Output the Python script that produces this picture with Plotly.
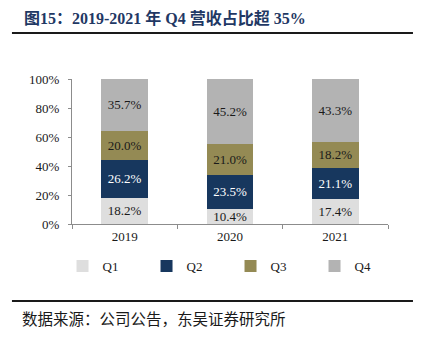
import plotly.graph_objects as go

years = ["2019", "2020", "2021"]
quarters = ["Q1", "Q2", "Q3", "Q4"]
shares = {
    "Q1": [18.2, 10.4, 17.4],
    "Q2": [26.2, 23.5, 21.1],
    "Q3": [20.0, 21.0, 18.2],
    "Q4": [35.7, 45.2, 43.3],
}
colors = {"Q1": "#dedede", "Q2": "#17375e", "Q3": "#948a54", "Q4": "#b3b3b3"}
text_colors = {"Q1": "#1a1a1a", "Q2": "#ffffff", "Q3": "#1a1a1a", "Q4": "#1a1a1a"}
y_ticks = [0, 20, 40, 60, 80, 100]

SERIF = "Liberation Serif"
CJK = "Liberation Serif, Noto Sans CJK SC"

fig = go.Figure()
for q in quarters:
    fig.add_trace(go.Bar(
        name=q,
        x=years,
        y=shares[q],
        marker=dict(color=colors[q], line=dict(width=0)),
        text=[f"{v:.1f}%" for v in shares[q]],
        textposition="inside",
        insidetextanchor="middle",
        textangle=0,
        constraintext="none",
        textfont=dict(family=SERIF, size=13, color=text_colors[q]),
        hoverinfo="skip",
    ))

fig.update_layout(
    barmode="stack",
    bargap=0.56,
    width=425,
    height=345,
    margin=dict(l=72, r=37, t=79, b=121),
    paper_bgcolor="white",
    plot_bgcolor="white",
    font=dict(family=SERIF, size=13, color="#1a1a1a"),
    showlegend=True,
    legend=dict(
        orientation="h",
        x=-0.03, xanchor="left",
        y=-0.29, yanchor="middle",
        entrywidth=39, entrywidthmode="pixels",
        itemwidth=30,
        font=dict(family=SERIF, size=13, color="#1a1a1a"),
        traceorder="normal",
    ),
    xaxis=dict(
        showline=True, linecolor="#8c8c8c", linewidth=1,
        ticks="outside", ticklen=4, tickcolor="#8c8c8c",
        tickson="boundaries",
        showgrid=False,
        tickfont=dict(family=SERIF, size=13, color="#1a1a1a"),
    ),
    yaxis=dict(
        range=[0, 100],
        tickvals=y_ticks,
        ticktext=[f"{v}%" for v in y_ticks],
        showline=True, linecolor="#8c8c8c", linewidth=1,
        ticks="outside", ticklen=3, tickcolor="#8c8c8c",
        ticklabelstandoff=6,
        showgrid=False, zeroline=False,
        tickfont=dict(family=SERIF, size=13, color="#1a1a1a"),
    ),
)

# header and footer rules
for yy in (1.317, -0.531):
    fig.add_shape(type="line", xref="paper", yref="paper",
                  x0=-0.19, x1=1.079, y0=yy, y1=yy,
                  line=dict(color="#1a1a1a", width=2))

fig.add_annotation(
    text="<b>图15：2019-2021 年 Q4 营收占比超 35%</b>",
    xref="paper", yref="paper", x=-0.158, y=1.42,
    xanchor="left", yanchor="middle", showarrow=False,
    font=dict(family=CJK, size=16, color="#1f3864"),
)
fig.add_annotation(
    text="数据来源：公司公告，东吴证券研究所",
    xref="paper", yref="paper", x=-0.165, y=-0.648,
    xanchor="left", yanchor="middle", showarrow=False,
    font=dict(family="Noto Sans CJK SC", size=15.5, color="#1a1a1a"),
)

fig.write_html("out.html")
